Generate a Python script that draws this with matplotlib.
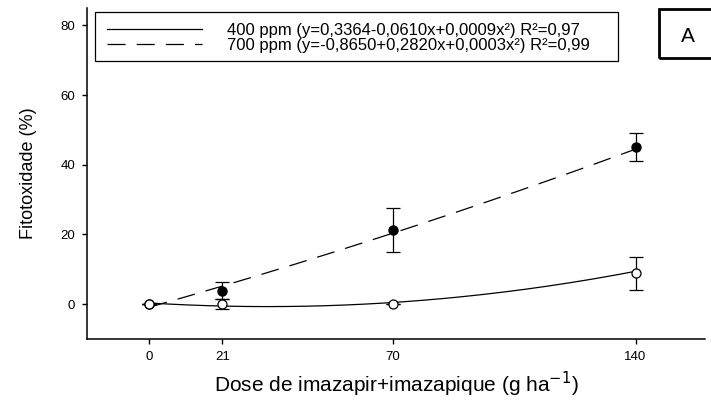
import numpy as np
import matplotlib
matplotlib.use("Agg")
import matplotlib.pyplot as plt
from matplotlib.patches import Rectangle

plt.rcParams['font.family'] = ['Liberation Sans', 'DejaVu Sans']
plt.rcParams['lines.scale_dashes'] = False

# dados
doses = [0, 21, 70, 140]
fito_400 = [0.0, 0.0, 0.0, 8.9]
erro_400 = [0.0, 1.4, 0.0, 4.7]
fito_700 = [0.0, 3.9, 21.3, 45.1]
erro_700 = [0.0, 2.4, 6.2, 4.0]

# coeficientes das regressoes (a, b, c) de y = a + b*x + c*x^2
coef_400 = [0.3364, -0.0610, 0.0009]
coef_700 = [-0.8650, 0.2820, 0.0003]

rotulo_400 = "400 ppm (y=0,3364-0,0610x+0,0009x²) R²=0,97"
rotulo_700 = "700 ppm (y=-0,8650+0,2820x+0,0003x²) R²=0,99"

fig = plt.figure(figsize=(7.11, 4.01), dpi=100)
ax = fig.add_axes([87/711, 62/401, 618/711, 331/401])

xs = np.linspace(0, 140, 200)
y400 = coef_400[0] + coef_400[1]*xs + coef_400[2]*xs**2
y700 = coef_700[0] + coef_700[1]*xs + coef_700[2]*xs**2

ax.plot(xs, y400, color='black', lw=0.9, label=rotulo_400)
ax.plot(xs, y700, color='black', lw=0.9, dashes=(13, 8), label=rotulo_700)

ax.errorbar(doses, fito_700, yerr=erro_700, fmt='o', color='black', mfc='black',
            ms=6.5, capsize=5, elinewidth=0.9, capthick=0.9, zorder=3)
ax.errorbar(doses, fito_400, yerr=erro_400, fmt='o', color='black', mfc='white',
            ms=6.5, capsize=5, elinewidth=0.9, capthick=0.9, mew=0.9, zorder=4)

ax.set_xlim(-18, 160)
ax.set_ylim(-10, 85)
ax.set_xticks(doses)
ax.set_yticks([0, 20, 40, 60, 80])
ax.tick_params(direction='out', length=3.5, width=1, labelsize=9.5, pad=5)

for s in ['top', 'right']:
    ax.spines[s].set_visible(False)
for s in ['left', 'bottom']:
    ax.spines[s].set_linewidth(1.1)

ax.set_xlabel("Dose de imazapir+imazapique (g ha$^{-1}$)", fontsize=15, labelpad=5)
ax.set_ylabel("Fitotoxidade (%)", fontsize=13, labelpad=17)

leg = ax.legend(loc='upper left', bbox_to_anchor=(100/711, 385/401),
                bbox_transform=fig.transFigure, fontsize=12, frameon=False,
                handlelength=5.7, borderpad=0.4, labelspacing=0.0,
                handletextpad=1.5, borderaxespad=0)

# moldura da legenda
fig.patches.append(Rectangle((95/711, 340/401), 523/711, 49/401, transform=fig.transFigure,
                             fill=False, edgecolor='black', lw=0.9))

# caixa com a letra A
fig.patches.append(Rectangle((659/711, 343/401), 70/711, 49/401, transform=fig.transFigure,
                             fill=False, edgecolor='black', lw=2, clip_on=False))
fig.text(688/711, 365/401, "A", fontsize=15, ha='center', va='center')

fig.savefig("out.png", dpi=100)
